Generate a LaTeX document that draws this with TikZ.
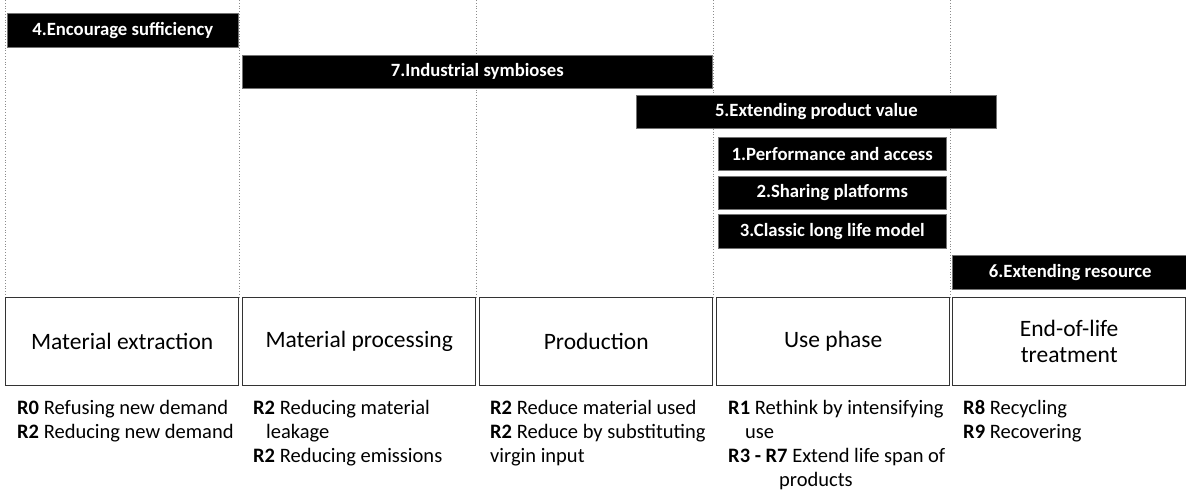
\documentclass[tikz,border=0pt]{standalone}
\usepackage{fontspec}
\setmainfont{Carlito}
\begin{document}
\begin{tikzpicture}[x=1pt,y=-1pt,
 blk/.style={fill=black, draw=black!55, line width=0.6pt, text=white, font=\fontsize{18.7}{22}\selectfont\bfseries, inner sep=0pt, anchor=north west},
 stage/.style={draw=black!80, line width=1.4pt, font=\fontsize{23.5}{26}\selectfont, align=center, inner sep=0pt, anchor=north west, minimum height=88, minimum width=233},
 rl/.style={anchor=base west, inner sep=0pt, font=\fontsize{20.5}{24}\selectfont},
 guide/.style={draw=black!45, dotted, line width=0.8pt}]
\useasboundingbox (0,0) rectangle (1186,490);
\foreach \i/\x in {a/5,b/239,c/476,d/713,e/950} {
  \coordinate (t\i) at (\x,0);
  \coordinate (b\i) at (\x,297);
  \draw[guide] (t\i) -- (b\i);
}
\node[blk, minimum width=231, minimum height=34] (s4) at (7,13) {4.Encourage sufficiency};
\node[blk, minimum width=470, minimum height=33] (s7) at (242,55) {7.Industrial symbioses};
\node[blk, minimum width=360, minimum height=33] (s5) at (636,95) {5.Extending product value};
\node[blk, minimum width=228, minimum height=33] (s1) at (718,137) {1.Performance and access};
\node[blk, minimum width=228, minimum height=33] (s2) at (718,176) {2.Sharing platforms};
\node[blk, minimum width=228, minimum height=34] (s3) at (718,214) {3.Classic long life model};
\node[blk, minimum width=236, minimum height=34] (s6) at (952,255) {6.Extending resource};

\node[stage] (m1) at (5,297) {Material extraction};
\node[stage] (m2) at (242,297) {Material processing};
\node[stage] (m3) at (479,297) {Production};
\node[stage] (m4) at (716,297) {Use phase};
\node[stage] (m5) at (952,297) {End-of-life\\treatment};

\node[rl] (r11) at (17,414) {\textbf{R0} Refusing new demand};
\node[rl] (r12) at (17,438) {\textbf{R2} Reducing new demand};

\node[rl] (r21) at (253,414) {\textbf{R2} Reducing material};
\node[rl] (r22) at (266,438) {leakage};
\node[rl] (r23) at (253,462) {\textbf{R2} Reducing emissions};

\node[rl] (r31) at (490,414) {\textbf{R2} Reduce material used};
\node[rl] (r32) at (490,438) {\textbf{R2} Reduce by substituting};
\node[rl] (r33) at (490,462) {virgin input};

\node[rl] (r41) at (728,414) {\textbf{R1} Rethink by intensifying};
\node[rl] (r42) at (745,438) {use};
\node[rl] (r43) at (728,462) {\textbf{R3 - R7} Extend life span of};
\node[rl] (r44) at (779,486) {products};

\node[rl] (r51) at (963,414) {\textbf{R8} Recycling};
\node[rl] (r52) at (963,438) {\textbf{R9} Recovering};
\end{tikzpicture}
\end{document}
